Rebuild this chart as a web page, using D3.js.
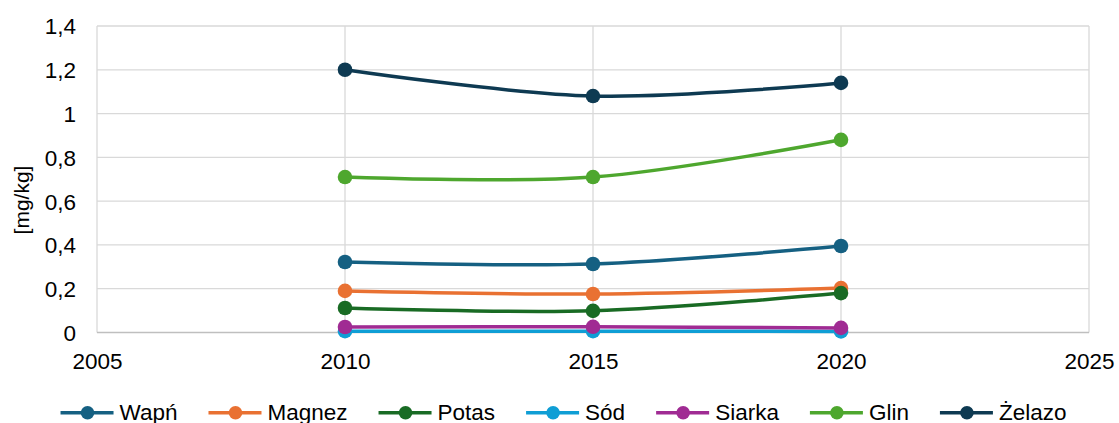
<!DOCTYPE html>
<html><head><meta charset="utf-8">
<script src="https://cdn.jsdelivr.net/npm/d3@7"></script>
<style>body{margin:0;background:#fff}svg{display:block;font-family:"Liberation Sans",Arial,sans-serif}</style>
</head><body><svg id="c" width="1119" height="423"></svg>
<script>
const years = [2010, 2015, 2020];
const seriesNames = ["Wapń", "Magnez", "Potas", "Sód", "Siarka", "Glin", "Żelazo"];
const wapn = [0.322, 0.313, 0.395];
const magnez = [0.190, 0.176, 0.203];
const potas = [0.112, 0.099, 0.180];
const sod = [0.006, 0.006, 0.005];
const siarka = [0.025, 0.026, 0.021];
const glin = [0.710, 0.710, 0.880];
const zelazo = [1.200, 1.080, 1.140];
const xTicks = [2005, 2010, 2015, 2020, 2025];
const yTicks = [0, 0.2, 0.4, 0.6, 0.8, 1, 1.2, 1.4];
const yLabel = "[mg/kg]";
const colors = ["#156082", "#E97132", "#196B24", "#0F9ED5", "#A02B93", "#4EA72E", "#0E3A52"];

const values = [wapn, magnez, potas, sod, siarka, glin, zelazo];
const series = seriesNames.map((n, i) => ({name: n, color: colors[i], pts: years.map((y, j) => [y, values[i][j]])}));

const svg = d3.select("#c");
const L = 97, R = 1089, T = 26, B = 332.5;
const x = d3.scaleLinear().domain([2005, 2025]).range([L, R]);
const y = d3.scaleLinear().domain([0, 1.4]).range([B, T]);
const fmt = v => String(+v.toFixed(1)).replace(".", ",");
const FS = 22.5;

const g = svg.append("g");
g.selectAll(".hg").data(yTicks.filter(v => v > 0)).join("line")
  .attr("x1", L).attr("x2", R).attr("y1", d => y(d)).attr("y2", d => y(d))
  .attr("stroke", "#d9d9d9").attr("stroke-width", 1.3);
g.selectAll(".vg").data(xTicks).join("line")
  .attr("y1", T).attr("y2", B).attr("x1", d => x(d)).attr("x2", d => x(d))
  .attr("stroke", "#d9d9d9").attr("stroke-width", 1.3);
svg.append("line").attr("x1", L).attr("x2", R).attr("y1", B).attr("y2", B).attr("stroke", "#bfbfbf").attr("stroke-width", 1.5);

const yAxis = d3.axisLeft(y).tickValues(yTicks).tickFormat(fmt).tickSize(0).tickPadding(21);
const ya = svg.append("g").attr("transform", `translate(${L},0)`).call(yAxis);
ya.select(".domain").remove();
ya.selectAll("text").attr("font-size", FS).attr("fill", "#000").attr("font-family", "Liberation Sans, Arial").attr("dy", "0.35em");

const xAxis = d3.axisBottom(x).tickValues(xTicks).tickFormat(d3.format("d")).tickSize(0).tickPadding(21);
const xa = svg.append("g").attr("transform", `translate(0,${B})`).call(xAxis);
xa.select(".domain").remove();
xa.selectAll("text").attr("font-size", FS).attr("fill", "#000").attr("font-family", "Liberation Sans, Arial");

svg.append("text").attr("transform", `translate(29,200) rotate(-90)`)
  .attr("text-anchor", "middle").attr("font-size", 21).attr("fill", "#000").text(yLabel);

const line = d3.line().x(d => x(d[0])).y(d => y(d[1])).curve(d3.curveCatmullRom.alpha(0.5));
series.forEach(s => {
  svg.append("path").attr("d", line(s.pts)).attr("fill", "none").attr("stroke", s.color).attr("stroke-width", 3.5).attr("stroke-linecap", "round");
  svg.selectAll(null).data(s.pts).join("circle").attr("cx", d => x(d[0])).attr("cy", d => y(d[1])).attr("r", 7.3).attr("fill", s.color);
});

const lg = svg.append("g");
let cx = 0;
series.forEach(s => {
  const it = lg.append("g").attr("transform", `translate(${cx},0)`);
  it.append("line").attr("x1", 0).attr("x2", 53).attr("y1", 0).attr("y2", 0).attr("stroke", s.color).attr("stroke-width", 3.5);
  it.append("circle").attr("cx", 27).attr("cy", 0).attr("r", 6.8).attr("fill", s.color);
  const t = it.append("text").attr("x", 59).attr("y", 6.8).attr("font-size", FS).attr("fill", "#000").text(s.name);
  const w = t.node().getComputedTextLength();
  cx += 59 + w + 31;
});
const total = cx - 31;
lg.attr("transform", `translate(${563.5 - total/2},412.7)`);
</script></body></html>
